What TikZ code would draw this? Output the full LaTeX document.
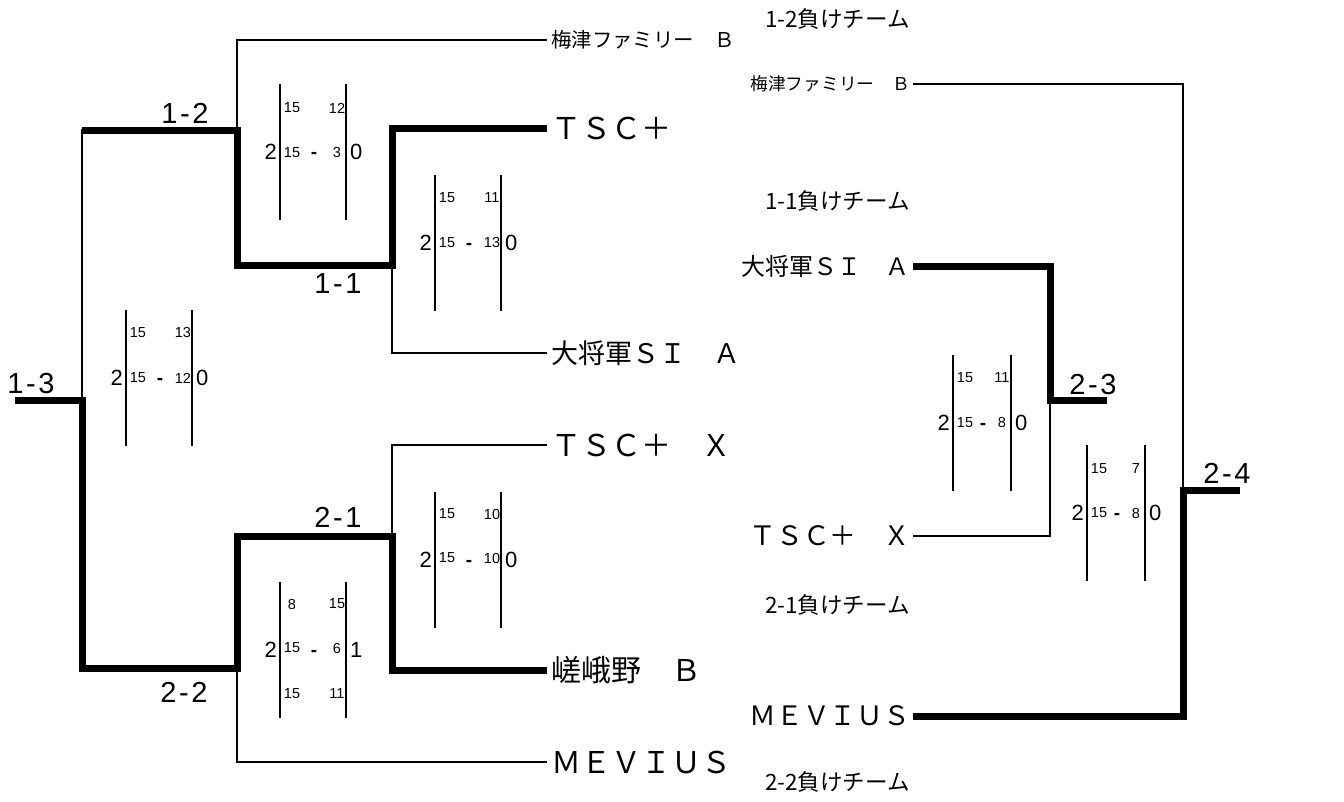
\documentclass[tikz,border=0pt]{standalone}
\usepackage{fontspec}
\setmainfont{Liberation Sans}
\newfontfamily\jpfont{Noto Sans CJK JP}
\newfontfamily\lblfont[LetterSpace=9]{Liberation Sans}
\usetikzlibrary{positioning, calc}
\newcommand{\fs}[1]{\fontsize{#1}{#1}\selectfont}
% name, left bar, right bar, top, sets won, sets lost, rows y/a/b
\newcommand{\scorebox}[7]{%
	\draw[bar] (#2,#4) -- ++(0,136);
	\draw[bar] (#3,#4) -- ++(0,136);
	\node[setnum, anchor=east] (#1w) at (#2-3,#4+68) {#5};
	\node[setnum, anchor=west] (#1l) at (#3+4,#4+68) {#6};
	\node[minus] (#1d) at ({(#2+#3)/2+1},#4+71) {-};
	\foreach \y/\a/\b [count=\i] in {#7} {
		\node[gamenum] (#1a\i) at (#2+12,\y) {\a};
		\node[gamenum] (#1b\i) at (#3-9,\y) {\b};
	}}

\begin{document}
\begin{tikzpicture}[x=1pt, y=-1pt, line join=miter]
		\tikzstyle{win}=[line width=7pt]
		\tikzstyle{lose}=[line width=2.4pt]
		\tikzstyle{bar}=[line width=2.6pt]
		\tikzstyle{setnum}=[inner sep=0pt, font=\fs{22}]
		\tikzstyle{gamenum}=[inner sep=0pt, font=\fs{14.5}]
		\tikzstyle{minus}=[inner sep=0pt, font=\bfseries\fs{19}]
		\tikzstyle{round}=[inner sep=0pt, font=\lblfont\fs{29}]
		\tikzstyle{teaml}=[anchor=west, inner sep=0pt, inner xsep=4pt, font=\jpfont\fs{30}]
		\tikzstyle{teamr}=[anchor=east, inner sep=0pt, inner xsep=3pt, font=\jpfont\fs{26.7}]
		
		\useasboundingbox (0,0) rectangle (1344,801);
		
		%% left side
		\node[teaml, font=\jpfont\fs{20.4}] (tUme) at (547,40) {梅津ファミリー　Ｂ};
		\node[teaml] (tTsc) at (547,128) {ＴＳＣ＋};
		\node[teaml, font=\jpfont\fs{27}] (tTai) at (547,353) {大将軍ＳＩ　Ａ};
		\node[teaml] (tTscx) at (547,445) {ＴＳＣ＋　Ｘ};
		\node[teaml] (tSaga) at (547,670) {嵯峨野　Ｂ};
		\node[teaml] (tMev) at (547,762) {ＭＥＶＩＵＳ};
		
		\coordinate (o13) at (15,400);
		\coordinate (j13) at (82,400);
		\coordinate (c13) at (82,130);
		\coordinate (j12) at (237,130);
		\coordinate (j11) at (392,265);
		\coordinate (j21) at (392,536);
		\coordinate (j22) at (237,668);
		
		\draw[lose] (j13) |- (j12);
		\draw[lose] (j12) |- (tUme.west);
		\draw[lose] (j11) |- (tTai.west);
		\draw[lose] (j21) |- (tTscx.west);
		\draw[lose] (j22) |- (tMev.west);
		\draw[win] (c13) -- (j12) |- (j11) |- (tTsc.west);
		\draw[win] (o13) -- (j13) |- (j22) |- (j21) |- (tSaga.west);
		
		\node[round] (m13) at (31,384) {1-3};
		\node[round] (m12) at (185,113) {1-2};
		\node[round] (m11) at (338,284) {1-1};
		\node[round] (m21) at (338,517) {2-1};
		\node[round] (m22) at (184,692) {2-2};
		
		\scorebox{s12}{280}{346}{84}{2}{0}{108/15/12, 153/15/3}
		\scorebox{s11}{435}{501}{175}{2}{0}{198/15/11, 243/15/13}
		\scorebox{s13}{126}{192}{310}{2}{0}{333/15/13, 378/15/12}
		\scorebox{s21}{435}{501}{492}{2}{0}{514/15/10, 558/15/10}
		\scorebox{s22}{280}{346}{582}{2}{1}{604/8/15, 648/15/6, 694/15/11}
		
		%% right side
		\node[teamr, font=\jpfont\fs{22.5}] (rL12) at (913,19) {1-2負けチーム};
		\node[teamr, font=\jpfont\fs{17.7}] (rUme) at (913,84) {梅津ファミリー　Ｂ};
		\node[teamr, font=\jpfont\fs{22.5}] (rL11) at (913,201) {1-1負けチーム};
		\node[teamr, font=\jpfont\fs{24}] (rTai) at (913,266) {大将軍ＳＩ　Ａ};
		\node[teamr] (rTscx) at (913,536) {ＴＳＣ＋　Ｘ};
		\node[teamr, font=\jpfont\fs{22.5}] (rL21) at (913,605) {2-1負けチーム};
		\node[teamr] (rMev) at (913,716) {ＭＥＶＩＵＳ};
		\node[teamr, font=\jpfont\fs{22.5}] (rL22) at (913,782) {2-2負けチーム};
		
		\coordinate (j23) at (1050,400);
		\coordinate (o23) at (1107,400);
		\coordinate (j24) at (1183,490);
		\coordinate (o24) at (1240,490);
		
		\draw[lose] (rTscx.east) -| (j23);
		\draw[lose] (rUme.east) -| (j24);
		\draw[win] (rTai.east) -| (j23) -- (o23);
		\draw[win] (rMev.east) -| (j24) -- (o24);
		
		\node[round] (m23) at (1093,385) {2-3};
		\node[round] (m24) at (1227,473) {2-4};
		
		\scorebox{s23}{953}{1011}{355}{2}{0}{378/15/11, 423/15/8}
		\scorebox{s24}{1087}{1145}{445}{2}{0}{469/15/7, 513/15/8}
\end{tikzpicture}
\end{document}
